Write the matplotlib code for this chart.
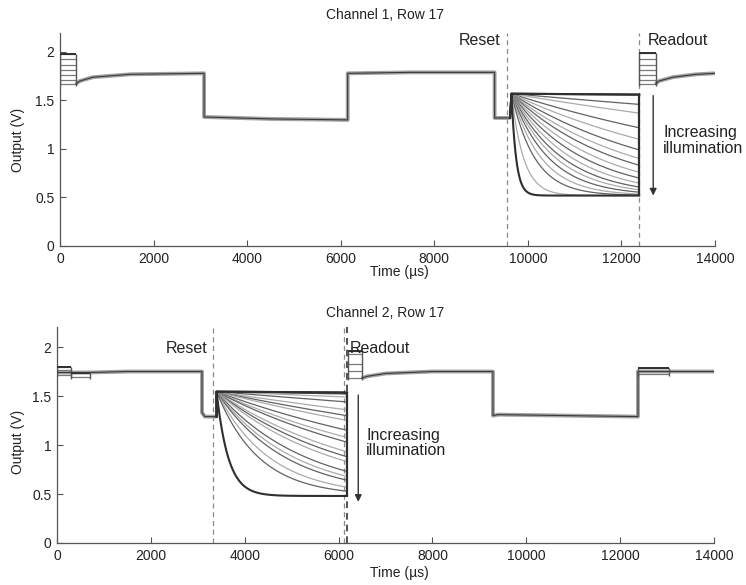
import numpy as np
import matplotlib
matplotlib.use("Agg")
import matplotlib.pyplot as plt

plt.rcParams['font.family'] = ['Liberation Sans', 'DejaVu Sans']

# ---------------- Channel 1 ----------------
ch1_title = "Channel 1, Row 17"
# steady part of the waveform before integration (time in us, output in V)
ch1_base_t = [340, 420, 700, 1500, 3080, 3080, 4500, 6150, 6150, 7500, 9290, 9290, 9620]
ch1_base_v = [1.67, 1.70, 1.74, 1.77, 1.78, 1.33, 1.31, 1.30, 1.78, 1.79, 1.79, 1.32, 1.32]
# readout bursts: span and sampled levels
ch1_burst1_span = [0, 340]
ch1_burst1_v = [1.98, 1.93, 1.87, 1.81, 1.76, 1.71, 1.67]
ch1_burst2_span = [12380, 12730]
ch1_burst2_v = [1.99, 1.93, 1.87, 1.81, 1.76, 1.71, 1.67]
# recovery after the second readout
ch1_tail_t = [12730, 12800, 13100, 13600, 14000]
ch1_tail_v = [1.67, 1.70, 1.74, 1.77, 1.78]
# integration: reset level, saturation floor, per-illumination time constants
ch1_reset_t = 9550
ch1_readout_t = 12380
ch1_int_start = 9650
ch1_int_end = 12380
ch1_v0 = 1.57
ch1_floor = 0.52
ch1_tau = [3e5, 3e5, 24600, 12900, 6700, 4600, 3400, 2700, 2250, 1850,
           1550, 1300, 1100, 950, 800, 640, 500, 260, 100]

# ---------------- Channel 2 ----------------
ch2_title = "Channel 2, Row 17"
ch2_base_t = [0, 700, 1500, 3090, 3090, 3150, 3400]
ch2_base_v = [1.74, 1.74, 1.75, 1.75, 1.33, 1.29, 1.29]
ch2_burst1_span = [0, 300]
ch2_burst1_v = [1.80, 1.77, 1.71]
ch2_burst2_span = [300, 700]
ch2_burst2_v = [1.73, 1.69]
ch2_burst3_span = [6200, 6490]
ch2_burst3_v = [1.96, 1.93, 1.83, 1.76, 1.68]
ch2_burst4_span = [12380, 13050]
ch2_burst4_v = [1.79, 1.72]
ch2_tail_t = [6490, 6600, 7000, 8000, 9290, 9290, 9400, 12380, 12380, 14000]
ch2_tail_v = [1.68, 1.70, 1.73, 1.75, 1.75, 1.30, 1.31, 1.29, 1.75, 1.75]
ch2_reset_t = 3330
ch2_readout_t = 6110
ch2_int_start = 3400
ch2_int_end = 6180
ch2_v0 = 1.545
ch2_floor = 0.48
ch2_tau = [3e5, 3e5, 117000, 52000, 26700, 14500, 10600, 8600, 6000, 4800,
           4200, 3230, 2840, 2500, 1920, 1660, 1470, 1125, 900, 250]

x_ticks = [0, 2000, 4000, 6000, 8000, 10000, 12000, 14000]
y_ticks = [0, 0.5, 1, 1.5, 2]
y_ticklabels = ["0", "0.5", "1", "1.5", "2"]

DARK = '#2f2f2f'
BAND = '#a2a2a2'


def draw_steady(ax, t, v):
    ax.plot(t, v, color=BAND, lw=2.8, solid_capstyle='butt', zorder=2)
    ax.plot(t, v, color='#3a3a3a', lw=0.8, zorder=3)


def draw_burst(ax, span, levels):
    ax.hlines(levels, span[0], span[1], colors='#7a7a7a', lw=0.9, zorder=3)
    ax.vlines(span, min(levels) - 0.02, max(levels), colors='#555555', lw=1.0, zorder=3)
    ax.hlines(max(levels), span[0], span[1], colors=DARK, lw=1.4, zorder=3)


def draw_integration(ax, t_start, t_end, v0, floor, taus, pre_t, pre_v):
    tt = np.linspace(0, t_end - t_start, 400)
    n = len(taus)
    for i, tau in enumerate(taus):
        v = floor + (v0 - floor) * np.exp(-tt / tau)
        t_all = np.concatenate([[pre_t, t_start], t_start + tt])
        v_all = np.concatenate([[pre_v, v0], v])
        if i in (0, 1, n - 1):
            ax.plot(t_all, v_all, color=DARK, lw=1.5, zorder=4)
        else:
            c = '#626262' if i % 2 == 0 else '#ababab'
            ax.plot(t_all, v_all, color=c, lw=0.9, zorder=3)
    ax.vlines(t_end, floor, v0, colors=DARK, lw=1.6, zorder=4)


def style_axes(ax):
    ax.set_xlim(0, 14000)
    ax.set_ylim(0, 2.2)
    ax.set_xticks(x_ticks)
    ax.set_xticklabels([str(x) for x in x_ticks])
    ax.set_yticks(y_ticks)
    ax.set_yticklabels(y_ticklabels)
    for s in ('top', 'right'):
        ax.spines[s].set_visible(False)
    for s in ('left', 'bottom'):
        ax.spines[s].set_color('#555555')
        ax.spines[s].set_linewidth(0.9)
    ax.tick_params(direction='in', length=4, width=0.8, color='#555555',
                   labelsize=10, labelcolor='#222222', pad=4)


fig = plt.figure(figsize=(7.46, 5.85), dpi=100)
ax1 = fig.add_axes([0.0804, 0.5795, 0.878, 0.3648])
ax2 = fig.add_axes([0.0764, 0.0718, 0.8807, 0.3685])

# ---- channel 1 ----
draw_burst(ax1, ch1_burst1_span, ch1_burst1_v)
draw_steady(ax1, ch1_base_t, ch1_base_v)
draw_integration(ax1, ch1_int_start, ch1_int_end, ch1_v0, ch1_floor, ch1_tau,
                 ch1_base_t[-1], ch1_base_v[-1])
draw_burst(ax1, ch1_burst2_span, ch1_burst2_v)
draw_steady(ax1, ch1_tail_t, ch1_tail_v)
for tx in (ch1_reset_t, ch1_readout_t):
    ax1.axvline(tx, color='#8a8a8a', lw=0.9, ls=(0, (4, 3)), zorder=1)
ax1.text(9425, 2.12, "Reset", ha='right', va='center', fontsize=11.5, color='#222222')
ax1.text(12570, 2.12, "Readout", ha='left', va='center', fontsize=11.5, color='#222222')
ax1.annotate("", xy=(12680, 0.52), xytext=(12680, 1.55),
             arrowprops=dict(arrowstyle='-|>', color='#333333', lw=1.0,
                             mutation_scale=10, shrinkA=0, shrinkB=0))
ax1.text(12890, 1.09, "Increasing\nillumination", ha='left', va='center',
         fontsize=11.5, color='#222222', linespacing=1.05, clip_on=False)
style_axes(ax1)

# ---- channel 2 ----
draw_burst(ax2, ch2_burst1_span, ch2_burst1_v)
draw_burst(ax2, ch2_burst2_span, ch2_burst2_v)
draw_steady(ax2, ch2_base_t, ch2_base_v)
draw_integration(ax2, ch2_int_start, ch2_int_end, ch2_v0, ch2_floor, ch2_tau,
                 ch2_base_t[-1], ch2_base_v[-1])
draw_burst(ax2, ch2_burst3_span, ch2_burst3_v)
draw_steady(ax2, ch2_tail_t, ch2_tail_v)
draw_burst(ax2, ch2_burst4_span, ch2_burst4_v)
ax2.axvline(ch2_reset_t, color='#8a8a8a', lw=0.9, ls=(0, (4, 3)), zorder=1)
ax2.axvline(ch2_readout_t, color='#8a8a8a', lw=0.9, ls=(0, (4, 3)), zorder=1)
ax2.axvline(ch2_int_end + 10, color='#333333', lw=1.2, ls=(0, (4, 3)), zorder=1)
ax2.text(3200, 1.98, "Reset", ha='right', va='center', fontsize=11.5, color='#222222')
ax2.text(6240, 1.98, "Readout", ha='left', va='center', fontsize=11.5, color='#222222')
ax2.annotate("", xy=(6420, 0.42), xytext=(6420, 1.51),
             arrowprops=dict(arrowstyle='-|>', color='#333333', lw=1.0,
                             mutation_scale=10, shrinkA=0, shrinkB=0))
ax2.text(6590, 1.02, "Increasing\nillumination", ha='left', va='center',
         fontsize=11.5, color='#222222', linespacing=1.05)
style_axes(ax2)

# titles and axis labels
fig.text(0.516, 0.974, ch1_title, ha='center', va='center', fontsize=10, color='#222222')
fig.text(0.516, 0.465, ch2_title, ha='center', va='center', fontsize=10, color='#222222')
fig.text(0.536, 0.535, "Time (\u00b5s)", ha='center', va='center', fontsize=10, color='#222222')
fig.text(0.535, 0.0205, "Time (\u00b5s)", ha='center', va='center', fontsize=10, color='#222222')
fig.text(0.024, 0.761, "Output (V)", ha='center', va='center', rotation=90, fontsize=10, color='#222222')
fig.text(0.024, 0.245, "Output (V)", ha='center', va='center', rotation=90, fontsize=10, color='#222222')

fig.savefig("out.png", dpi=100)
